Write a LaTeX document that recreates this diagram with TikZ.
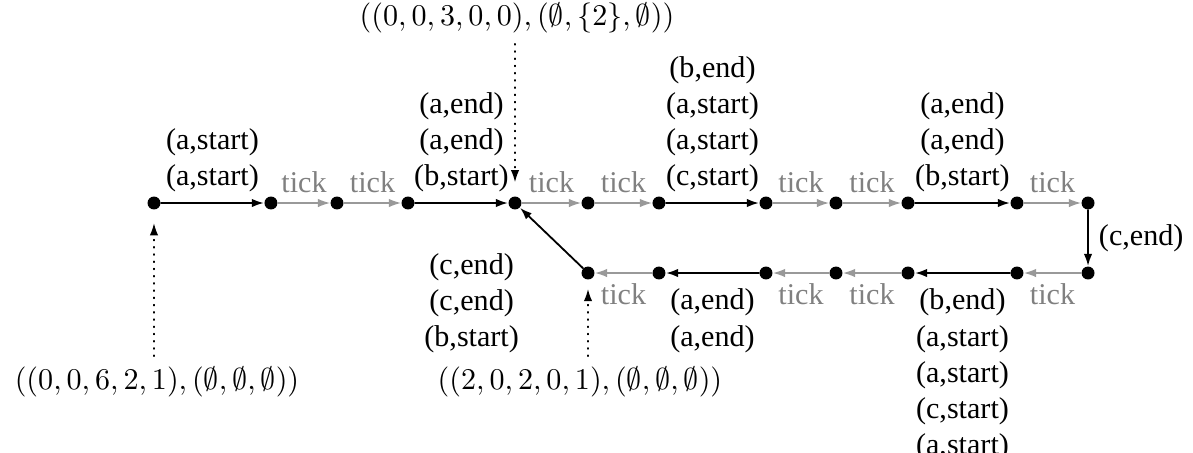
\documentclass[tikz,border=0pt]{standalone}
\usepackage{amsmath}
\usepackage[no-math]{fontspec}
\setmainfont{Liberation Serif}
\usetikzlibrary{arrows.meta,positioning}

\begin{document}
\begin{tikzpicture}[>={Latex[length=4pt,width=2.8pt]},line cap=round,line join=round,
  dot/.style={circle,fill=black,inner sep=0pt,minimum size=4.3pt},
  act/.style={->,semithick,black},
  tickedge/.style={->,gray!80,thin},
  ticklbl/.style={gray},
  lbl/.style={align=center},
  info/.style={->,dotted}]
 \useasboundingbox (-1.797,-2.906) rectangle (12.125,2.369);
 \foreach \n/\x in {0/0,1/1.365,2/2.136,3/2.964,4/4.213,5/5.065,6/5.893,
   7/7.142,8/7.959,9/8.799,10/10.071,11/10.9}
  \node[dot] (t\n) at (\x,0) {};
 \foreach \n/\x in {5/5.065,6/5.893,7/7.142,8/7.959,9/8.799,10/10.071,11/10.9}
  \node[dot] (b\n) at (\x,-.817) {};

 \draw[act] (t0) -- (t1) node[midway,above,lbl] {(a,start)\\(a,start)};
 \draw[tickedge] (t1) -- (t2) node[midway,above,ticklbl] {tick};
 \draw[tickedge] (t2) -- (t3) node[midway,above,ticklbl] {tick};
 \draw[act] (t3) -- (t4) node[midway,above,lbl] {(a,end)\\(a,end)\\(b,start)};
 \draw[tickedge] (t4) -- (t5) node[midway,above,ticklbl] {tick};
 \draw[tickedge] (t5) -- (t6) node[midway,above,ticklbl] {tick};
 \draw[act] (t6) -- (t7) node[midway,above,lbl]
  {(b,end)\\(a,start)\\(a,start)\\(c,start)};
 \draw[tickedge] (t7) -- (t8) node[midway,above,ticklbl] {tick};
 \draw[tickedge] (t8) -- (t9) node[midway,above,ticklbl] {tick};
 \draw[act] (t9) -- (t10) node[midway,above,lbl] {(a,end)\\(a,end)\\(b,start)};
 \draw[tickedge] (t10) -- (t11) node[midway,above,ticklbl] {tick};

 \draw[act] (t11) -- (b11) node[midway,right] {(c,end)};

 \draw[tickedge] (b11) -- (b10) node[midway,below,ticklbl] {tick};
 \draw[act] (b10) -- (b9) node[midway,below,lbl,yshift=-1.7pt]
  {(b,end)\\(a,start)\\(a,start)\\(c,start)\\(a,start)};
 \draw[tickedge] (b9) -- (b8) node[midway,below,ticklbl] {tick};
 \draw[tickedge] (b8) -- (b7) node[midway,below,ticklbl] {tick};
 \draw[act] (b7) -- (b6) node[midway,below,lbl,yshift=-1.7pt] {(a,end)\\(a,end)};
 \draw[tickedge] (b6) -- (b5) node[midway,below,ticklbl] {tick};
 \draw[act] (b5) -- (t4);
 \node[lbl,left=.6cm of b5,yshift=-.35cm] (back) {(c,end)\\(c,end)\\(b,start)};

 \node (s0) at (.035,-2.089) {$((0,0,6,2,1),(\emptyset,\emptyset,\emptyset))$};
 \node (s1) at (4.236,2.159) {$((0,0,3,0,0),(\emptyset,\{2\},\emptyset))$};
 \node (s2) at (4.971,-2.089) {$((2,0,2,0,1),(\emptyset,\emptyset,\emptyset))$};
 \draw[info,shorten >=4.4pt] (t0 |- s0.north) -- (t0);
 \draw[info,shorten >=4.6pt] (t4 |- s1.south) -- (t4);
 \draw[info,shorten >=3pt] (b5 |- s2.north) -- (b5);
\end{tikzpicture}
\end{document}
